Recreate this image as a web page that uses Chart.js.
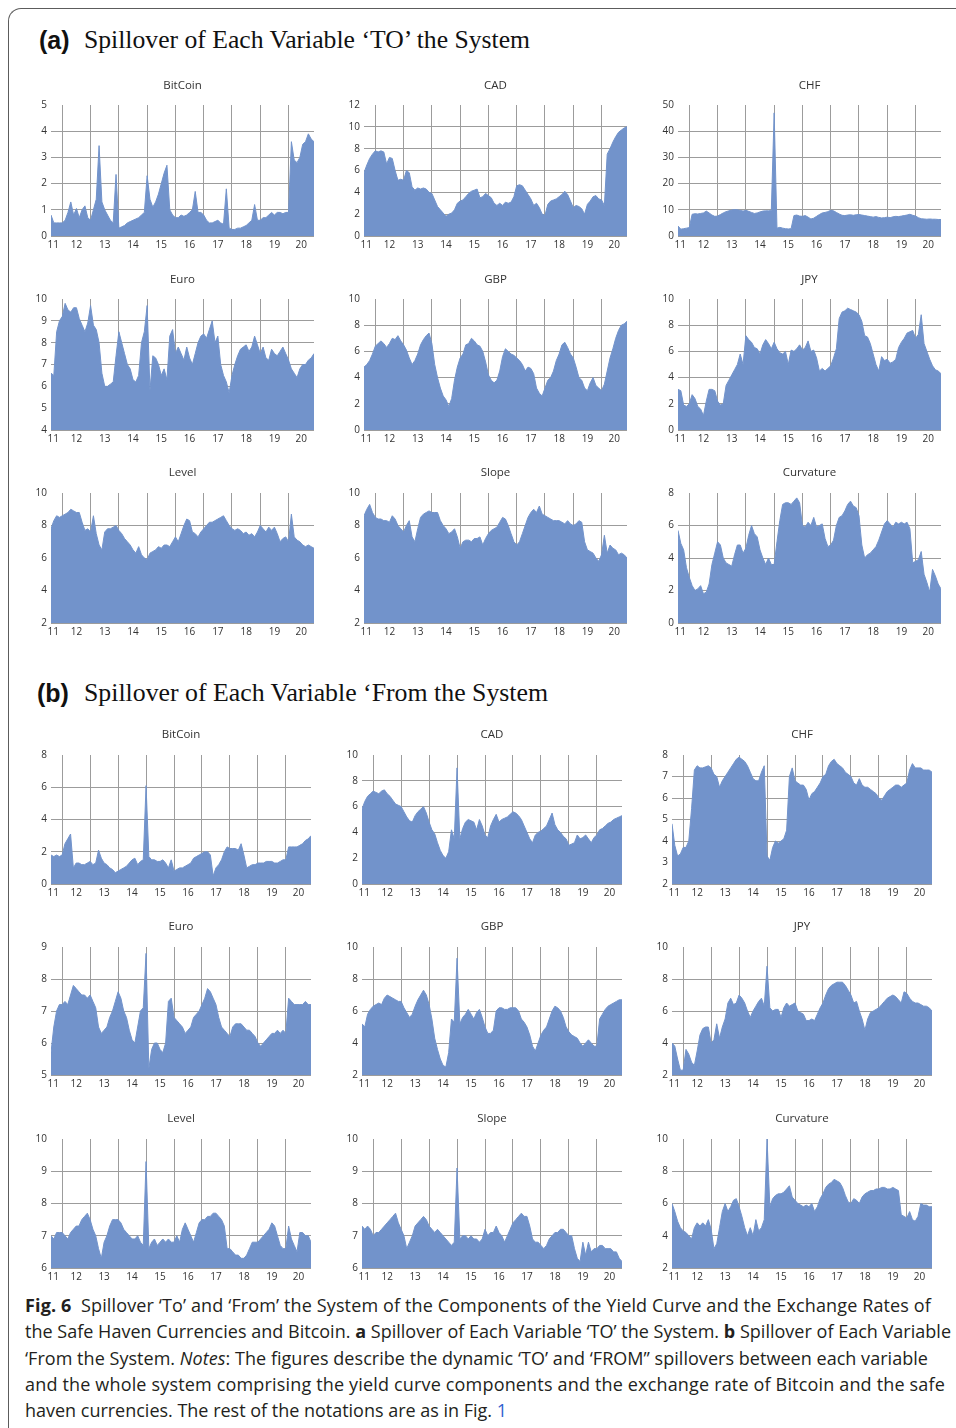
<!DOCTYPE html>
<html>
<head>
<meta charset="utf-8">
<script src="https://cdn.jsdelivr.net/npm/chart.js@4.4.1/dist/chart.umd.min.js"></script>
<style>
html,body{margin:0;padding:0;background:#fff;}
body{width:956px;height:1428px;position:relative;overflow:hidden;font-family:'Open Sans',sans-serif;}
.frame{position:absolute;left:8px;top:8px;width:1100px;height:1600px;border-left:1px solid #5c5c5c;border-top:1px solid #5c5c5c;border-top-left-radius:13px;}
.lab{position:absolute;white-space:nowrap;line-height:30px;height:30px;color:#111;}
.lab.sans{font-family:'Liberation Sans',Arial,sans-serif;font-weight:bold;font-size:25px;}
.lab.serif{font-family:'Liberation Serif','Times New Roman',serif;font-size:22px;}
.panel{position:absolute;}
.cap{position:absolute;left:25px;top:1292px;font-family:'Open Sans',sans-serif;font-size:18px;line-height:26.3px;color:#231f20;}
.cl{white-space:nowrap;height:26.3px;}
.cl span.t{display:inline-block;}
.blue{color:#2f5fd0;}
</style>
</head>
<body>
<div class="frame"></div>
<div class="lab sans" style="left:39px;top:25px;">(a)</div>
<div class="lab serif" id="titleA" style="left:84px;top:25px;">Spillover of Each Variable ‘TO’ the System</div>
<div class="lab sans" style="left:37px;top:678px;">(b)</div>
<div class="lab serif" id="titleB" style="left:84px;top:678px;">Spillover of Each Variable ‘From the System</div>
<div id="panels"></div>
<div class="cap">
<div class="cl"><span class="t"><b>Fig. 6</b>&nbsp;&nbsp;Spillover ‘To’ and ‘From’ the System of the Components of the Yield Curve and the Exchange Rates of</span></div>
<div class="cl"><span class="t">the Safe Haven Currencies and Bitcoin. <b>a</b> Spillover of Each Variable ‘TO’ the System. <b>b</b> Spillover of Each Variable</span></div>
<div class="cl"><span class="t">‘From the System. <i>Notes</i>: The figures describe the dynamic ‘TO’ and ‘FROM” spillovers between each variable</span></div>
<div class="cl"><span class="t">and the whole system comprising the yield curve components and the exchange rate of Bitcoin and the safe</span></div>
<div class="cl"><span class="t">haven currencies. The rest of the notations are as in Fig. <span class="blue">1</span></span></div>
</div>
<script>
// ---------------- DATA ----------------
const YEARS = [11.6,11.7,11.8,11.9,
 12.0,12.1,12.2,12.3,12.4,12.5,12.6,12.7,12.8,12.9,
 13.0,13.1,13.2,13.3,13.4,13.5,13.6,13.7,13.8,13.9,
 14.0,14.1,14.2,14.3,14.4,14.5,14.6,14.7,14.8,14.9,
 15.0,15.1,15.2,15.3,15.4,15.5,15.6,15.7,15.8,15.9,
 16.0,16.1,16.2,16.3,16.4,16.5,16.6,16.7,16.8,16.9,
 17.0,17.1,17.2,17.3,17.4,17.5,17.6,17.7,17.8,17.9,
 18.0,18.1,18.2,18.3,18.4,18.5,18.6,18.7,18.8,18.9,
 19.0,19.1,19.2,19.3,19.4,19.5,19.6,19.7,19.8,19.9,
 20.0,20.1,20.2,20.3,20.4,20.5,20.6,20.7,20.8,20.9];

const YEAR_LABELS = ['11','12','13','14','15','16','17','18','19','20'];
const PANEL_TITLES = ['BitCoin','CAD','CHF','Euro','GBP','JPY','Level','Slope','Curvature'];

const TO_Y_MIN  = [0, 0, 0, 4, 0, 0, 2, 2, 0];
const TO_Y_MAX  = [5, 12, 50, 10, 10, 10, 10, 10, 8];
const TO_Y_STEP = [1, 2, 10, 1, 2, 2, 2, 2, 2];
const FROM_Y_MIN  = [0, 0, 2, 5, 2, 2, 6, 6, 2];
const FROM_Y_MAX  = [8, 10, 8, 9, 10, 10, 10, 10, 10];
const FROM_Y_STEP = [2, 2, 1, 1, 2, 2, 1, 1, 2];

// (a) Spillover TO the system
const TO_BITCOIN = [0.8,0.5,0.5,0.5,
 0.5,0.6,0.9,1.3,0.8,1.05,0.7,1.0,1.15,0.7,
 0.6,1.0,1.4,3.45,1.3,1.0,0.8,0.6,0.5,2.35,
 0.3,0.35,0.4,0.5,0.55,0.6,0.65,0.7,0.8,0.9,
 2.3,1.4,1.1,1.3,1.6,2.0,2.4,2.7,1.0,0.8,
 0.7,0.7,0.8,0.75,0.8,0.9,1.0,1.7,0.9,0.9,
 0.8,0.6,0.5,0.5,0.55,0.6,0.5,0.45,1.8,0.3,
 0.25,0.25,0.3,0.3,0.35,0.4,0.5,0.6,1.2,0.6,
 0.6,0.7,0.7,0.8,0.9,0.8,0.9,0.9,0.85,0.9,
 0.9,3.6,2.9,2.8,3.0,3.5,3.6,3.9,3.7,3.6];
const TO_CAD = [5.8,6.5,7.1,7.5,
 7.8,7.7,7.8,7.7,6.6,7.2,7.1,6.0,5.1,5.2,
 5.1,6.0,5.8,4.5,4.2,4.4,4.3,4.4,4.3,4.0,
 3.9,3.3,2.7,2.4,2.1,1.8,2.0,2.1,2.4,3.0,
 3.2,3.3,3.6,3.9,4.1,4.2,4.3,3.5,3.6,3.9,
 3.7,3.5,3.0,2.8,3.0,2.8,3.1,3.0,3.1,3.6,
 4.6,4.7,4.6,4.2,3.8,3.4,2.8,3.0,2.6,2.0,
 1.9,2.9,3.2,3.3,3.4,3.6,3.8,4.1,3.8,3.2,
 2.6,2.8,2.7,2.5,2.0,2.9,3.2,3.6,3.7,3.4,
 3.3,2.8,7.5,8.0,8.6,9.1,9.5,9.7,9.9,10.0];
const TO_CHF = [3.8,2.6,2.8,3.0,
 3.2,8.3,8.5,8.4,8.6,8.8,9.5,8.8,8.0,7.5,
 7.6,8.2,8.8,9.3,9.6,9.9,10.1,10.0,9.8,9.5,
 9.8,9.4,9.0,8.6,8.8,9.2,9.5,9.6,9.6,9.7,
 47,3.0,3.3,3.0,2.8,2.7,2.8,7.8,8.0,7.6,
 7.5,7.8,7.2,6.5,6.8,7.5,8.2,8.8,9.0,9.3,
 9.8,9.6,9.0,8.4,7.9,7.8,8.0,8.1,7.9,8.1,
 8.2,8.0,7.8,7.6,7.4,7.2,7.4,7.1,6.9,7.0,
 7.2,7.0,7.3,7.5,7.4,7.6,7.8,8.0,8.3,7.9,
 7.6,7.0,6.6,6.5,6.4,6.5,6.4,6.4,6.3,6.3];
const TO_EURO = [6.6,6.5,8.5,9.0,
 9.2,9.8,9.5,9.4,9.6,9.6,9.1,8.8,8.5,8.9,
 9.7,8.8,8.6,8.0,6.6,6.0,6.0,6.1,6.2,7.4,
 8.5,8.0,7.5,7.0,6.8,6.3,6.2,6.5,8.0,8.5,
 9.7,5.8,7.4,7.3,7.0,6.5,6.8,6.3,8.3,8.6,
 7.5,7.8,7.5,7.2,7.8,7.3,7.0,7.5,8.0,8.3,
 8.4,8.2,8.6,9.0,8.0,8.3,7.0,6.5,6.2,5.7,
 6.5,7.0,7.4,7.7,7.8,7.9,7.6,7.8,8.3,7.9,
 7.5,7.8,7.3,7.2,7.7,7.5,7.4,7.6,7.8,7.5,
 7.2,6.8,6.6,6.4,6.8,7.0,7.0,7.2,7.3,7.5];
const TO_GBP = [4.8,5.0,5.3,5.8,
 6.4,6.6,6.8,6.6,6.3,6.6,7.0,6.9,7.2,6.8,
 6.5,6.1,5.5,5.0,5.3,5.8,6.5,6.9,7.2,7.4,
 6.6,5.0,4.0,3.2,2.6,2.3,1.8,2.4,3.8,4.8,
 5.5,5.8,6.5,6.6,7.0,6.8,6.5,6.4,6.0,5.2,
 4.2,3.8,3.6,3.8,4.5,5.6,6.2,6.0,5.8,5.7,
 5.5,5.3,5.0,4.5,4.8,4.7,4.3,3.2,2.8,2.6,
 3.2,3.8,4.0,4.5,5.3,5.8,6.5,6.7,6.3,5.8,
 5.5,4.8,4.0,3.8,3.2,3.0,3.6,4.0,3.4,3.2,
 3.0,3.5,4.5,5.5,6.2,7.0,7.6,8.0,8.1,8.3];
const TO_JPY = [3.1,3.0,1.9,1.8,
 2.0,2.7,2.4,1.8,1.6,1.1,2.2,3.1,3.1,3.0,
 2.2,1.9,2.0,3.4,3.8,4.2,4.6,5.0,5.8,5.0,
 7.2,6.9,6.7,6.3,6.2,5.8,6.5,6.9,6.6,6.2,
 6.7,6.2,5.9,5.8,6.0,5.0,6.1,6.0,6.2,6.5,
 6.1,6.3,6.8,6.0,6.1,5.5,4.5,4.7,4.5,4.7,
 4.9,5.5,6.2,8.5,9.0,9.1,9.3,9.2,9.1,9.0,
 8.8,8.3,7.2,7.1,6.6,5.8,5.0,4.5,5.6,5.3,
 5.4,5.1,5.2,5.4,6.3,6.7,7.0,7.4,7.5,7.6,
 7.0,7.3,8.8,6.6,6.0,5.4,4.9,4.6,4.5,4.3];
const TO_LEVEL = [7.8,8.3,8.6,8.5,
 8.6,8.7,8.8,9.0,8.9,8.8,8.8,8.2,7.7,7.8,
 7.6,8.6,7.5,6.8,6.5,7.6,7.8,7.8,7.9,8.0,
 7.7,7.5,7.2,7.0,6.8,6.5,6.3,6.7,6.2,6.0,
 5.9,6.3,6.4,6.5,6.7,6.6,6.8,6.8,6.7,7.0,
 7.3,7.0,7.5,8.0,8.4,8.3,7.6,7.5,7.3,7.6,
 7.8,8.0,8.2,8.2,8.3,8.4,8.5,8.6,8.3,8.0,
 7.8,7.7,7.8,7.7,7.5,7.6,7.4,7.5,7.3,7.6,
 8.0,7.8,7.6,7.9,7.7,7.9,7.5,7.0,7.2,7.3,
 7.0,8.7,7.3,7.1,7.0,6.8,6.7,6.8,6.7,6.6];
const TO_SLOPE = [8.6,9.0,9.3,8.8,
 8.5,8.4,8.4,8.3,8.3,8.2,8.6,8.4,8.0,7.8,
 7.6,8.0,8.3,7.3,7.0,7.8,8.5,8.7,8.8,8.9,
 8.8,8.8,8.8,8.3,8.0,7.8,7.5,7.6,7.8,7.3,
 6.6,7.0,7.1,7.1,7.0,7.2,7.2,7.3,6.8,7.2,
 7.5,7.7,7.8,7.9,8.2,8.5,8.4,8.0,7.5,7.0,
 6.8,7.0,7.5,8.0,8.5,8.8,9.0,8.8,9.2,8.7,
 8.6,8.5,8.4,8.3,8.3,8.3,8.2,8.1,8.3,8.1,
 8.0,8.1,8.3,8.2,7.0,6.5,6.4,6.3,6.0,5.8,
 6.2,7.4,6.3,6.8,6.6,6.5,6.2,6.3,6.2,6.0];
const TO_CURVATURE = [5.7,4.9,4.5,3.4,
 2.8,2.3,2.0,2.1,2.3,1.8,1.9,2.4,3.6,4.3,
 5.0,4.8,4.0,3.7,3.6,3.5,4.2,4.8,4.8,4.3,
 4.6,5.4,6.0,5.5,5.3,4.5,4.0,3.6,4.0,3.6,
 3.6,5.0,6.3,7.3,7.4,7.4,7.3,7.5,7.7,7.4,
 6.0,5.9,6.2,6.0,6.5,5.9,6.0,6.1,5.2,4.7,
 4.8,5.1,6.0,6.5,6.6,6.9,7.3,7.5,7.2,7.1,
 6.6,4.8,4.0,4.2,4.3,4.5,4.7,5.1,5.6,6.1,
 6.3,6.1,5.9,6.2,6.1,6.2,6.1,6.2,5.8,3.7,
 3.8,3.9,4.4,3.0,2.5,1.9,3.3,2.9,2.4,2.1];

// (b) Spillover FROM the system
const FROM_BITCOIN = [1.8,1.7,1.8,1.7,
 1.8,2.5,2.8,3.1,1.0,1.3,1.3,1.2,1.2,1.3,
 1.4,1.2,1.3,2.1,1.6,1.3,1.2,1.0,0.9,0.7,
 0.8,0.9,1.0,1.1,1.3,1.5,1.6,1.2,1.4,1.5,
 6.1,1.7,1.5,1.5,1.4,1.4,1.5,1.3,1.0,1.5,
 0.8,0.9,1.0,1.0,1.1,1.2,1.3,1.6,1.7,1.8,
 1.9,2.0,2.0,1.8,0.5,1.0,1.2,1.5,2.0,2.3,
 2.2,2.2,2.2,2.1,2.5,1.8,1.0,1.1,1.2,1.2,
 1.3,1.3,1.3,1.4,1.4,1.4,1.3,1.3,1.4,1.5,
 1.5,2.3,2.3,2.3,2.3,2.4,2.5,2.7,2.8,3.0];
const FROM_CAD = [5.8,6.4,6.8,7.0,
 7.2,7.1,7.0,7.2,7.3,7.0,6.8,6.5,6.2,6.1,
 6.0,5.6,5.2,4.9,4.8,5.3,5.6,5.8,6.0,5.5,
 4.8,4.2,3.9,3.2,2.6,2.2,2.0,2.5,4.2,3.5,
 9.0,3.5,4.3,4.8,5.0,4.9,4.8,4.2,5.0,4.5,
 3.8,3.6,4.5,5.0,5.4,4.8,5.0,5.1,5.2,5.4,
 5.6,5.5,5.3,5.0,4.5,4.0,3.5,3.2,3.8,4.0,
 4.1,4.3,4.5,5.0,5.5,4.6,4.2,4.0,3.7,3.5,
 3.0,3.1,3.2,3.8,3.5,3.6,3.8,3.5,3.2,3.6,
 3.8,4.2,4.3,4.5,4.7,4.8,5.0,5.1,5.2,5.3];
const FROM_CHF = [4.8,3.8,3.3,3.4,
 3.7,3.7,4.0,5.5,7.3,7.5,7.4,7.4,7.45,7.5,
 7.4,7.1,7.0,6.5,6.8,7.0,7.2,7.4,7.6,7.8,
 7.9,7.8,7.7,7.5,7.2,6.9,6.8,6.8,7.2,7.5,
 3.3,3.1,3.7,4.0,3.9,4.0,4.1,4.5,7.0,7.4,
 6.8,6.7,6.6,6.6,6.4,5.9,6.2,6.3,6.5,6.7,
 7.0,7.1,7.5,7.7,7.8,7.6,7.5,7.4,7.2,7.1,
 7.0,6.7,6.6,6.9,6.6,6.5,6.5,6.4,6.3,6.2,
 6.0,5.9,6.1,6.3,6.4,6.5,6.6,6.6,6.5,6.6,
 6.7,7.3,7.6,7.4,7.4,7.4,7.3,7.3,7.3,7.2];
const FROM_EURO = [5.7,6.5,7.0,7.2,
 7.2,7.3,7.2,7.5,7.8,7.7,7.6,7.5,7.5,7.4,
 7.5,7.3,7.1,6.5,6.3,6.4,6.5,6.8,7.0,7.3,
 7.6,7.4,7.0,6.8,6.4,6.1,6.0,6.5,7.0,7.1,
 8.8,5.2,5.8,6.0,6.0,5.8,5.7,6.0,7.3,7.4,
 6.8,6.7,6.6,6.5,6.3,6.4,6.5,6.8,6.9,7.0,
 7.2,7.4,7.7,7.6,7.4,7.2,6.8,6.5,6.4,6.3,
 6.2,6.5,6.6,6.6,6.6,6.5,6.4,6.4,6.3,6.2,
 6.0,5.9,6.0,6.1,6.2,6.3,6.3,6.4,6.3,6.4,
 6.3,7.4,7.3,7.2,7.2,7.2,7.2,7.3,7.2,7.2];
const FROM_GBP = [5.2,5.0,5.8,6.1,
 6.3,6.4,6.5,6.4,6.8,7.0,6.9,6.8,6.7,6.6,
 6.6,6.2,5.9,5.6,5.8,6.3,6.7,7.0,7.3,7.0,
 6.4,5.5,4.3,3.6,3.0,2.6,2.5,3.4,5.5,5.3,
 9.3,5.2,5.6,5.8,6.1,5.8,5.5,5.9,6.1,5.6,
 5.0,4.6,4.6,4.8,6.0,6.2,6.2,6.1,6.1,6.2,
 6.2,6.2,6.0,5.5,5.3,5.0,4.5,3.8,3.5,4.0,
 4.5,4.8,5.0,5.5,6.0,6.3,6.2,6.0,5.6,5.0,
 4.7,4.5,4.4,4.3,4.0,3.8,4.0,4.2,4.0,3.8,
 3.8,5.5,5.8,6.1,6.3,6.4,6.5,6.6,6.7,6.7];
const FROM_JPY = [4.0,3.8,3.0,2.3,
 2.3,3.6,3.3,2.8,2.6,3.5,4.5,4.9,5.0,5.0,
 4.0,4.2,5.2,4.3,5.0,5.5,6.5,6.8,6.4,6.5,
 7.0,6.8,6.5,6.0,5.6,6.0,6.3,6.6,6.8,6.3,
 8.8,6.2,6.0,6.1,6.1,5.6,6.2,6.5,6.3,6.4,
 6.5,6.0,5.9,5.8,5.4,5.4,5.5,5.4,5.8,6.2,
 6.5,7.0,7.4,7.6,7.7,7.8,7.8,7.8,7.6,7.3,
 7.0,6.5,6.6,6.0,5.5,4.8,5.5,5.9,6.0,6.1,
 6.2,6.4,6.6,6.8,6.9,7.0,6.9,6.7,6.5,7.2,
 7.1,6.8,6.6,6.5,6.5,6.4,6.3,6.3,6.2,6.0];
const FROM_LEVEL = [7.0,6.9,7.1,7.1,
 7.1,7.0,6.9,7.1,7.2,7.3,7.3,7.5,7.6,7.7,
 7.5,7.2,7.0,6.6,6.3,6.8,7.0,7.3,7.5,7.5,
 7.5,7.4,7.2,7.1,7.0,6.9,6.9,7.0,6.8,6.7,
 9.3,6.6,6.8,6.9,6.7,6.8,6.9,6.8,6.9,6.8,
 6.8,7.0,6.8,7.2,7.4,7.2,7.0,6.8,7.1,7.4,
 7.5,7.5,7.6,7.6,7.7,7.7,7.6,7.5,7.3,6.6,
 6.6,6.5,6.4,6.4,6.3,6.3,6.4,6.6,6.8,6.8,
 6.8,6.9,7.0,7.1,7.2,7.4,7.3,7.0,6.7,6.6,
 6.6,7.3,6.9,6.7,6.5,7.1,7.1,7.0,7.0,6.8];
const FROM_SLOPE = [7.3,7.2,7.3,7.2,
 7.0,7.1,7.1,7.2,7.3,7.4,7.5,7.6,7.7,7.4,
 7.2,7.0,6.6,6.8,7.0,7.3,7.4,7.5,7.6,7.5,
 7.3,7.2,7.1,7.2,7.1,7.0,6.9,6.8,6.7,6.8,
 9.1,6.9,7.0,7.0,6.9,7.0,6.9,6.9,6.8,6.9,
 7.2,7.0,7.1,7.1,7.3,7.1,7.0,6.8,7.0,7.2,
 7.4,7.5,7.6,7.7,7.6,7.6,7.3,6.9,6.8,6.8,
 6.7,6.6,6.7,6.9,7.0,7.1,7.1,7.2,7.2,7.1,
 7.0,7.0,6.6,6.3,6.2,6.8,6.4,6.8,6.5,6.6,
 6.6,6.7,6.7,6.6,6.6,6.6,6.5,6.5,6.3,6.2];
const FROM_CURVATURE = [6.0,5.5,4.9,4.5,
 4.3,4.2,4.0,3.8,4.5,4.8,4.6,4.8,4.6,5.0,
 4.4,3.2,3.5,4.5,5.5,6.0,5.5,5.8,6.2,6.3,
 5.8,5.2,4.5,4.0,4.5,4.0,5.0,4.3,4.5,5.0,
 10.0,5.8,6.3,6.5,6.6,6.6,6.7,6.9,7.1,6.4,
 6.2,6.0,5.9,5.8,5.9,5.8,6.0,5.5,5.8,6.3,
 6.6,7.0,7.2,7.3,7.5,7.4,7.3,7.0,6.5,6.1,
 6.0,6.3,6.2,6.0,6.4,6.6,6.7,6.8,6.8,6.9,
 6.9,7.0,7.0,6.9,6.9,7.0,6.9,6.8,5.3,5.2,
 5.1,5.5,5.0,4.9,5.2,6.0,5.9,5.9,5.8,5.8];

const TO_SERIES = [TO_BITCOIN,TO_CAD,TO_CHF,TO_EURO,TO_GBP,TO_JPY,TO_LEVEL,TO_SLOPE,TO_CURVATURE];
const FROM_SERIES = [FROM_BITCOIN,FROM_CAD,FROM_CHF,FROM_EURO,FROM_GBP,FROM_JPY,FROM_LEVEL,FROM_SLOPE,FROM_CURVATURE];

// ---------------- STYLE / LAYOUT ----------------
const FILL = 'rgb(114,147,203)';
const GRID = '#9c9c9c';
const TXT = '#333333';
const NONE = 'rgba(0,0,0,0)';
const FONT = "'Open Sans', sans-serif";
const YW = 30, PAD_TOP = 4, TITLE_SIZE = 11.5, TITLE_LH = TITLE_SIZE * 1.2, XH = 16, PAD_BOT = 4;

const LAYOUT = {
  to:   { lefts:[51,364,678], width:263, titleY:[86,280,473],   plotTop:[105,299,493],   plotH:[131,131,130] },
  from: { lefts:[51,362,672], width:260, titleY:[735,927,1119], plotTop:[755,947,1139],  plotH:[129,128,129] }
};

const X_MIN = YEARS[0], X_MAX = YEARS[YEARS.length - 1];
// x ticks: year boundaries carry the grid lines, year centres carry the labels
const X_TICKS = [];
YEAR_LABELS.forEach((lab, i) => {
  const y0 = Number(lab), y1 = y0 + 1;
  const lo = Math.max(y0, X_MIN), hi = Math.min(y1, X_MAX);
  const pos = (i === 0) ? X_MIN + 0.08 : (lo + hi) / 2;
  X_TICKS.push({ value: pos, label: lab });
  if (i > 0) X_TICKS.push({ value: y0, label: '' });
});
X_TICKS.sort((a, b) => a.value - b.value);

function makePanel(key, idx, values, title, ymin, ymax, ystep) {
  const L = LAYOUT[key];
  const col = idx % 3, row = Math.floor(idx / 3);
  const plotLeft = L.lefts[col], plotW = L.width;
  const titleY = L.titleY[row], plotTop = L.plotTop[row], plotH = L.plotH[row];
  const canvasTop = Math.round(titleY - PAD_TOP - TITLE_LH / 2);
  const pb = plotTop - canvasTop - PAD_TOP - TITLE_LH;
  const H = (plotTop - canvasTop) + plotH + XH + PAD_BOT;
  const W = plotW + 2 * YW;

  const div = document.createElement('div');
  div.className = 'panel';
  div.style.left = (plotLeft - YW) + 'px';
  div.style.top = canvasTop + 'px';
  div.style.width = W + 'px';
  div.style.height = H + 'px';
  const cv = document.createElement('canvas');
  cv.width = W; cv.height = H;
  cv.style.width = W + 'px'; cv.style.height = H + 'px';
  div.appendChild(cv);
  document.getElementById('panels').appendChild(div);

  new Chart(cv, {
    type: 'line',
    data: {
      datasets: [{
        data: YEARS.map((x, i) => ({ x: x, y: values[i] })),
        fill: 'start',
        backgroundColor: FILL,
        borderColor: FILL,
        borderWidth: 1,
        pointRadius: 0,
        tension: 0
      }]
    },
    options: {
      responsive: false,
      animation: false,
      events: [],
      layout: { padding: { top: PAD_TOP, bottom: PAD_BOT, left: 0, right: 0 } },
      plugins: {
        legend: { display: false },
        tooltip: { enabled: false },
        title: {
          display: true, text: title, color: TXT,
          font: { family: FONT, size: TITLE_SIZE, weight: 'normal', lineHeight: 1.2 },
          padding: { top: 0, bottom: pb }
        }
      },
      scales: {
        x: {
          type: 'linear', min: X_MIN, max: X_MAX,
          border: { display: false },
          grid: {
            drawTicks: false, lineWidth: 1,
            color: (c) => (c.tick && Number.isInteger(c.tick.value)) ? GRID : NONE
          },
          ticks: {
            autoSkip: false, maxRotation: 0, minRotation: 0, padding: 3,
            color: TXT, font: { family: FONT, size: 10 },
            callback: (v) => { const t = X_TICKS.find(t => Math.abs(t.value - v) < 1e-6); return t ? t.label : ''; }
          },
          afterBuildTicks: (s) => { s.ticks = X_TICKS.map(t => ({ value: t.value })); },
          afterFit: (s) => { s.height = XH; }
        },
        y: {
          min: ymin, max: ymax,
          border: { display: false },
          grid: {
            drawTicks: false, lineWidth: 1,
            color: (c) => (c.tick && c.tick.value >= ymax - 1e-9) ? NONE : GRID
          },
          ticks: { stepSize: ystep, padding: 4, color: TXT, font: { family: FONT, size: 10 } },
          afterFit: (s) => { s.width = YW; }
        },
        // empty right-hand axis that only mirrors the left axis width, so the title centres on the plot
        yPad: {
          position: 'right', min: ymin, max: ymax,
          border: { display: false },
          grid: { display: false, drawTicks: false },
          ticks: { display: false },
          afterFit: (s) => { s.width = YW; }
        }
      }
    }
  });
}

TO_SERIES.forEach((vals, i) => makePanel('to', i, vals, PANEL_TITLES[i], TO_Y_MIN[i], TO_Y_MAX[i], TO_Y_STEP[i]));
FROM_SERIES.forEach((vals, i) => makePanel('from', i, vals, PANEL_TITLES[i], FROM_Y_MIN[i], FROM_Y_MAX[i], FROM_Y_STEP[i]));

// ---------------- text fitting (layout only) ----------------
function fitFontSize(el, target) {
  const base = parseFloat(getComputedStyle(el).fontSize);
  const w = el.getBoundingClientRect().width;
  if (w > 0) el.style.fontSize = (base * target / w) + 'px';
}
function fitSpacing(el, target) {
  el.style.letterSpacing = '0px';
  const w = el.getBoundingClientRect().width;
  const n = el.textContent.length;
  if (n > 1) el.style.letterSpacing = ((target - w) / n) + 'px';
}
const CAPTION_WIDTHS = [906, 926, 903, 920, 482];
function fitAll() {
  fitFontSize(document.getElementById('titleA'), 446);
  fitFontSize(document.getElementById('titleB'), 464);
  document.querySelectorAll('.cl span.t').forEach((el, i) => fitSpacing(el, CAPTION_WIDTHS[i]));
}
fitAll();
if (document.fonts && document.fonts.ready) document.fonts.ready.then(fitAll);
</script>
</body>
</html>
